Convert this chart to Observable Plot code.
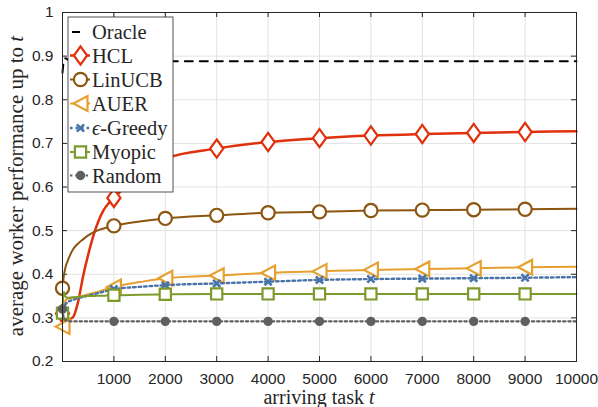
<!DOCTYPE html>
<html>
<head>
<meta charset="utf-8">
<script src="https://cdn.jsdelivr.net/npm/d3@7"></script>
<script src="https://cdn.jsdelivr.net/npm/@observablehq/plot@0.6"></script>
<style>
  body { margin: 0; background: #fff; }
  #chart { width: 598px; height: 407px; }
</style>
</head>
<body>
<div id="chart"></div>
<script>
// ---- data ----
const tasks   = [0, 25, 50, 100, 200, 300, 400, 500, 600, 700, 800, 900, 1000, 1500, 2000, 3000, 4000, 5000, 6000, 7000, 8000, 9000, 10000];
const oracle  = [0.862, 0.888, 0.895, 0.892, 0.889, 0.888, 0.888, 0.888, 0.888, 0.888, 0.888, 0.888, 0.888, 0.888, 0.888, 0.888, 0.888, 0.888, 0.888, 0.888, 0.888, 0.888, 0.888];
const hcl     = [0.310, 0.305, 0.300, 0.297, 0.301, 0.335, 0.395, 0.445, 0.488, 0.522, 0.547, 0.563, 0.575, 0.630, 0.665, 0.688, 0.703, 0.712, 0.718, 0.7215, 0.724, 0.726, 0.728];
const linucb  = [0.368, 0.395, 0.412, 0.430, 0.456, 0.470, 0.480, 0.489, 0.496, 0.501, 0.505, 0.508, 0.511, 0.521, 0.528, 0.535, 0.541, 0.543, 0.546, 0.547, 0.548, 0.549, 0.550];
const auer    = [0.280, 0.320, 0.338, 0.344, 0.346, 0.348, 0.351, 0.354, 0.357, 0.360, 0.364, 0.367, 0.371, 0.382, 0.391, 0.397, 0.403, 0.4066, 0.410, 0.412, 0.4135, 0.416, 0.417];
const egreedy = [0.318, 0.325, 0.330, 0.336, 0.341, 0.345, 0.348, 0.351, 0.354, 0.357, 0.360, 0.363, 0.366, 0.371, 0.375, 0.379, 0.383, 0.387, 0.389, 0.390, 0.391, 0.392, 0.3935];
const myopic  = [0.311, 0.360, 0.350, 0.346, 0.347, 0.348, 0.349, 0.350, 0.350, 0.351, 0.351, 0.352, 0.352, 0.353, 0.354, 0.355, 0.355, 0.355, 0.355, 0.355, 0.355, 0.355, 0.355];
const random  = [0.320, 0.300, 0.295, 0.293, 0.292, 0.292, 0.292, 0.292, 0.292, 0.292, 0.292, 0.292, 0.292, 0.292, 0.292, 0.292, 0.292, 0.292, 0.292, 0.292, 0.292, 0.292, 0.292];
const markerTasks = [0, 1000, 2000, 3000, 4000, 5000, 6000, 7000, 8000, 9000];
const xTicks = [1000, 2000, 3000, 4000, 5000, 6000, 7000, 8000, 9000, 10000];
const yTicks = [0.2, 0.3, 0.4, 0.5, 0.6, 0.7, 0.8, 0.9, 1];
const seriesNames = ["Oracle", "HCL", "LinUCB", "AUER", "ϵ-Greedy", "Myopic", "Random"];

// ---- symbols ----
const rad = s => Math.sqrt(s / Math.PI);
const symDiamond = {draw(c, s) { const r = rad(s); c.moveTo(0, -1.38 * r); c.lineTo(r, 0); c.lineTo(0, 1.38 * r); c.lineTo(-r, 0); c.closePath(); }};
const symCircle  = {draw(c, s) { const r = rad(s); c.moveTo(r, 0); c.arc(0, 0, r, 0, 2 * Math.PI); c.closePath(); }};
const symTriLeft = {draw(c, s) { const r = rad(s); c.moveTo(-r, 0); c.lineTo(r, -1.05 * r); c.lineTo(r, 1.05 * r); c.closePath(); }};
const symSquare  = {draw(c, s) { const r = rad(s); c.moveTo(-r, -r); c.lineTo(r, -r); c.lineTo(r, r); c.lineTo(-r, r); c.closePath(); }};
const symX       = {draw(c, s) { const r = rad(s); c.moveTo(-r, -r); c.lineTo(r, r); c.moveTo(r, -r); c.lineTo(-r, r); }};
const symDot     = {draw(c, s) { const r = rad(s); c.moveTo(r, 0); c.arc(0, 0, r, 0, 2 * Math.PI); c.closePath(); }};

const styles = [
  {values: oracle,  color: "#000000", width: 2,   dash: "8 7",     sym: null,       r: 0,   fill: "none"},
  {values: hcl,     color: "#E0300C", width: 2.5, dash: null,      sym: symDiamond, r: 6.6, fill: "#fff"},
  {values: linucb,  color: "#8C5510", width: 2,   dash: null,      sym: symCircle,  r: 6.6, fill: "#fff"},
  {values: auer,    color: "#E6A030", width: 2,   dash: null,      sym: symTriLeft, r: 7,   fill: "#fff"},
  {values: egreedy, color: "#4A74A8", width: 2.4, dash: "2.6 2.9", sym: symX,       r: 3.6, fill: "none"},
  {values: myopic,  color: "#7D9A2C", width: 2,   dash: null,      sym: symSquare,  r: 5.6, fill: "#fff"},
  {values: random,  color: "#606060", width: 2.2, dash: "2.4 2.8", sym: symDot,     r: 3.6, fill: "#606060"}
];

const rows = styles.map((st, k) => tasks.map((t, i) => ({t, v: st.values[i], name: seriesNames[k]})));

const tickLenY = 0.8 * 5 / 349;
const tickLenX = 10000 * 5 / 514;
const axisColor = "#262626";

const marks = [
  Plot.gridX(xTicks, {stroke: "#e2e2e2", strokeOpacity: 1, strokeWidth: 1}),
  Plot.gridY(yTicks, {stroke: "#e2e2e2", strokeOpacity: 1, strokeWidth: 1}),
  Plot.axisX(xTicks, {tickSize: 0, tickPadding: 11, tickFormat: d => String(d), fontSize: 15.5, fill: axisColor, label: null}),
  Plot.axisY(yTicks, {tickSize: 0, tickPadding: 9, tickFormat: d => d === 1 ? "1" : d.toFixed(1), fontSize: 15.5, fill: axisColor, label: null}),
  Plot.ruleX(xTicks, {x: d => d, y1: 0.2, y2: 0.2 + tickLenY, stroke: axisColor}),
  Plot.ruleX(xTicks, {x: d => d, y1: 1, y2: 1 - tickLenY, stroke: axisColor}),
  Plot.ruleY(yTicks, {y: d => d, x1: 0, x2: tickLenX, stroke: axisColor}),
  Plot.ruleY(yTicks, {y: d => d, x1: 10000, x2: 10000 - tickLenX, stroke: axisColor})
];

styles.forEach((st, k) => {
  marks.push(Plot.line(rows[k], {x: "t", y: "v", stroke: st.color, strokeWidth: st.width,
    strokeDasharray: st.dash || undefined, curve: "monotone-x", strokeLinejoin: "round"}));
  if (st.sym) {
    marks.push(Plot.dot(rows[k].filter(d => markerTasks.includes(d.t)), {x: "t", y: "v",
      symbol: st.sym, r: st.r, stroke: st.color, fill: st.fill, strokeWidth: st.sym === symX ? 2.6 : 2.2}));
  }
});
marks.push(Plot.frame({stroke: axisColor, strokeWidth: 1}));

const plot = Plot.plot({
  width: 598, height: 407,
  marginLeft: 62, marginRight: 22, marginTop: 12, marginBottom: 46,
  x: {domain: [0, 10000], label: null},
  y: {domain: [0.2, 1], label: null},
  style: {fontFamily: "'Liberation Sans', Arial, sans-serif", fontSize: "15.5px", color: axisColor, background: "#fff", overflow: "visible"},
  marks
});
document.getElementById("chart").appendChild(plot);

// ---- labels & legend (added on top of the Plot SVG) ----
const svg = d3.select(plot);
const serif = "'Liberation Serif', 'Times New Roman', serif";

const xl = svg.append("text").attr("x", 319).attr("y", 404).attr("text-anchor", "middle")
  .attr("font-family", serif).attr("font-size", 20).attr("fill", axisColor);
xl.append("tspan").text("arriving task ");
xl.append("tspan").attr("font-style", "italic").text("t");

const yl = svg.append("text").attr("transform", "translate(23,186) rotate(-90)").attr("text-anchor", "middle")
  .attr("font-family", serif).attr("font-size", 21).attr("fill", axisColor);
yl.append("tspan").text("average worker performance up to ");
yl.append("tspan").attr("font-style", "italic").text("t");

const lg = svg.append("g");
lg.append("rect").attr("x", 68).attr("y", 17).attr("width", 105).attr("height", 175)
  .attr("fill", "#fff").attr("stroke", axisColor).attr("stroke-width", 0.8);
const rowY = [32, 55.5, 79.5, 103.5, 128, 152, 175.5];
styles.forEach((st, k) => {
  const y = rowY[k];
  if (!st.sym) {
    lg.append("line").attr("x1", 72).attr("x2", 80).attr("y1", y).attr("y2", y)
      .attr("stroke", st.color).attr("stroke-width", st.width);
  } else {
    lg.append("line").attr("x1", 70).attr("x2", 90).attr("y1", y).attr("y2", y)
      .attr("stroke", st.color).attr("stroke-width", st.width).attr("stroke-dasharray", st.dash);
    const p = d3.path();
    st.sym.draw(p, st.r * st.r * Math.PI);
    lg.append("path").attr("d", p.toString()).attr("transform", `translate(80.5,${y})`)
      .attr("stroke", st.color).attr("fill", st.fill).attr("stroke-width", st.sym === symX ? 2.6 : 2.2);
  }
  const tx = lg.append("text").attr("x", 92).attr("y", y + 7).attr("text-anchor", "start")
    .attr("font-family", serif).attr("font-size", 20.5).attr("fill", axisColor);
  if (seriesNames[k].startsWith("ϵ")) {
    tx.append("tspan").attr("font-style", "italic").text("ϵ");
    tx.append("tspan").text(seriesNames[k].slice(1));
  } else {
    tx.text(seriesNames[k]);
  }
});
</script>
</body>
</html>
